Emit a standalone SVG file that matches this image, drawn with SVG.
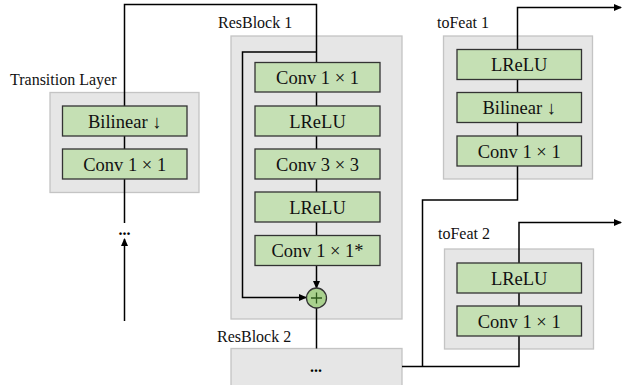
<svg xmlns="http://www.w3.org/2000/svg" width="623" height="385" viewBox="0 0 623 385">
<defs>
<marker id="arr" markerWidth="8" markerHeight="7" refX="7" refY="3.5" orient="auto" markerUnits="userSpaceOnUse">
<path d="M0,0 L8,3.5 L0,7 Z" fill="#000"/>
</marker>
<style>
.cont{fill:#e6e6e6;stroke:#c4c4c4;stroke-width:1.3}
.blk{fill:#c5e0b4;stroke:#333;stroke-width:1.3}
.lbl{font-family:"Liberation Serif","Times New Roman",serif;font-size:16px;fill:#111}
.bt{font-family:"Liberation Serif","Times New Roman",serif;font-size:18.5px;fill:#111;text-anchor:middle}
.dots{font-family:"Liberation Serif","Times New Roman",serif;font-size:16px;font-weight:bold;fill:#000;text-anchor:middle}
.ln{fill:none;stroke:#000;stroke-width:1.5}
</style>
</defs>
<rect width="623" height="385" fill="#fff"/>

<g id="transition-layer">
<text class="lbl" x="10" y="85">Transition Layer</text>
<rect class="cont" x="50" y="92.5" width="149" height="100"/>
</g>
<g id="resblock1">
<text class="lbl" x="218" y="28">ResBlock 1</text>
<rect class="cont" x="231" y="36" width="171" height="283"/>
</g>
<g id="resblock2">
<text class="lbl" x="217" y="342">ResBlock 2</text>
<rect class="cont" x="231" y="348.5" width="171" height="40"/>
<text class="dots" x="316" y="372">...</text>
</g>
<g id="tofeat1">
<text class="lbl" x="437" y="28">toFeat 1</text>
<rect class="cont" x="443.5" y="36" width="149" height="143"/>
</g>
<g id="tofeat2">
<text class="lbl" x="438" y="239">toFeat 2</text>
<rect class="cont" x="444.5" y="249" width="149" height="100"/>
</g>

<g id="connectors">
<path class="ln" d="M124.5,223 V4.5 H316.5 V62"/>
<path class="ln" d="M316.5,52 H242.5 V297.5 H306" marker-end="url(#arr)"/>
<path class="ln" d="M316.5,62 V288" marker-end="url(#arr)"/>
<path class="ln" d="M316.5,308 V348.5"/>
<path class="ln" d="M124.5,321 V239" marker-end="url(#arr)"/>
<path class="ln" d="M402,366.5 H519 V222.5 H621" marker-end="url(#arr)"/>
<path class="ln" d="M422.5,366.5 V200 H517.5 V7.5 H621" marker-end="url(#arr)"/>
</g>

<g id="tl-bilinear"><rect class="blk" x="62.5" y="106" width="124.5" height="30"/><text class="bt" x="124.7" y="127.5">Bilinear ↓</text></g>
<g id="tl-conv"><rect class="blk" x="62.5" y="149" width="124.5" height="30"/><text class="bt" x="124.7" y="170.5">Conv 1 × 1</text></g>
<text class="dots" x="124.5" y="235">...</text>

<g id="rb-conv1"><rect class="blk" x="255" y="62.5" width="125" height="29.5"/><text class="bt" x="317.5" y="84">Conv 1 × 1</text></g>
<g id="rb-lrelu1"><rect class="blk" x="255" y="106" width="125" height="30"/><text class="bt" x="317.5" y="127.5">LReLU</text></g>
<g id="rb-conv3"><rect class="blk" x="255" y="149" width="125" height="30"/><text class="bt" x="317.5" y="170.5">Conv 3 × 3</text></g>
<g id="rb-lrelu2"><rect class="blk" x="255" y="192" width="125" height="30"/><text class="bt" x="317.5" y="213.5">LReLU</text></g>
<g id="rb-conv1s"><rect class="blk" x="255" y="235.5" width="125" height="30"/><text class="bt" x="317.5" y="257">Conv 1 × 1*</text></g>
<g id="rb-add">
<circle cx="316.5" cy="298" r="10" fill="#a9d18e" stroke="#333" stroke-width="1.3"/>
<path d="M311,298 H322 M316.5,292.5 V303.5" stroke="#2e5a1c" stroke-width="1.3" fill="none"/>
</g>

<g id="tf1-lrelu"><rect class="blk" x="457" y="49.5" width="124.5" height="30"/><text class="bt" x="519.2" y="71">LReLU</text></g>
<g id="tf1-bilinear"><rect class="blk" x="457" y="92.5" width="124.5" height="30"/><text class="bt" x="519.2" y="114">Bilinear ↓</text></g>
<g id="tf1-conv"><rect class="blk" x="457" y="136" width="124.5" height="30"/><text class="bt" x="519.2" y="157.5">Conv 1 × 1</text></g>

<g id="tf2-lrelu"><rect class="blk" x="457" y="263" width="124.5" height="30"/><text class="bt" x="519.2" y="284.5">LReLU</text></g>
<g id="tf2-conv"><rect class="blk" x="457" y="306" width="124.5" height="30"/><text class="bt" x="519.2" y="327.5">Conv 1 × 1</text></g>
</svg>
